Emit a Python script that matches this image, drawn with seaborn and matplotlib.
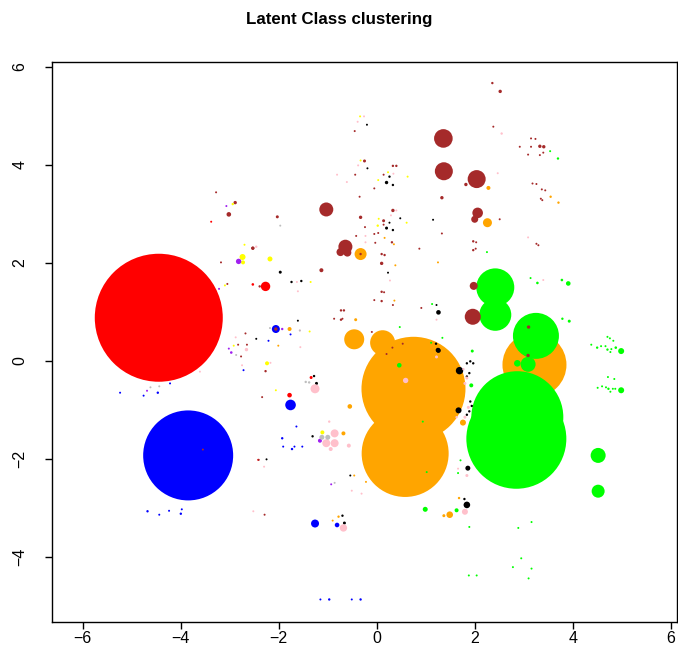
import numpy as np
import pandas as pd
import matplotlib
matplotlib.use("Agg")
import matplotlib.pyplot as plt
import seaborn as sns

# points per latent class: x, y, bubble radius (px)
red_x = [-4.45, -2.27, -1.78, -1.34, -3.38, -2.53, -2.42]
red_y = [0.88, 1.52, -0.70, -0.34, 2.84, 1.56, -2.02]
red_r = [64, 4.7, 2.3, 1.5, 1.0, 1.3, 1.0]

blue_x = [-3.85, -2.06, -1.76, -1.26, -0.81, -2.72, -4.22, -4.47, -4.76, -5.24, -1.76, -2.21,
          -1.64, -1.93, -1.91, -1.73, -1.68, -1.52, -4.68, -4.44, -4.24, -4.00, -3.98,
          -1.15, -0.97, -0.51, -0.33]
blue_y = [-1.93, 0.65, -0.90, -3.32, -3.35, -0.19, -0.46, -0.65, -0.71, -0.65, 0.54, 0.41,
          -1.34, -1.58, -1.75, -1.80, -1.75, -1.75, -3.07, -3.14, -3.06, -3.12, -3.03,
          -4.87, -4.87, -4.87, -4.87]
blue_r = [45, 4, 5.3, 4, 2.3, 1, 1, 1.2, 1, 1, 1, 1,
          1, 1.2, 1, 1.2, 1, 1, 1.2, 1, 1, 1.2, 1,
          1, 1.2, 1, 1.2]

orange_x = [0.75, 0.58, 3.22, 0.12, -0.46, -0.33, 2.26, 2.28, 1.49, 1.76, -0.55, -0.68, -1.78,
            0.38, 1.25, 0.36, -0.43, -2.01, 0.16, 0.35, 3.55, 3.71, -0.46, -0.22, -0.78,
            -0.90, 1.68, 1.37]
orange_y = [-0.57, -1.89, -0.08, 0.37, 0.44, 2.18, 2.82, 3.53, -3.14, -1.26, -0.93, -1.48, 0.65,
            1.95, 2.01, 1.23, 0.84, 0.31, 2.51, 2.38, 3.35, 3.23, -2.34, -2.47, -3.18,
            -3.26, -2.80, -3.16]
orange_r = [52, 43.5, 32, 12.5, 10, 6, 4.5, 2, 3.3, 3, 2.3, 2, 2,
            1, 1, 1, 1.5, 1, 1, 1, 1.2, 1.2, 1, 1, 1.2,
            1, 1.2, 1.5]

green_x = [2.85, 2.87, 3.25, 2.42, 2.42, 3.09, 2.87, 4.52, 4.52, 4.99, 4.99, 3.91, 3.93,
           0.46, 0.99, 1.63, 1.93, 1.95, 1.13, 0.47, 1.11, 1.34, 3.54, 3.70, 3.14, 3.28,
           3.78, 3.79, 2.25,
           4.38, 4.50, 4.58, 4.67, 4.71, 4.79, 4.77, 4.88, 4.71, 4.76, 4.83,
           4.51, 4.60, 4.68, 4.73, 4.82, 4.87, 4.77, 4.72, 4.85,
           1.02, 1.71, 1.66, 0.94,
           1.89, 2.89, 3.16, 2.95, 2.78, 3.16, 1.88, 2.04, 3.10]
green_y = [-1.59, -1.15, 0.51, 1.50, 0.94, -0.07, -0.05, -1.93, -2.66, 0.20, -0.60, 1.58, 0.81,
           -0.09, -3.03, -3.05, -0.50, 0.20, 1.16, 0.69, 0.37, 0.47, 4.28, 4.13, 1.69, 1.59,
           1.65, 0.86, 2.22,
           0.33, 0.27, 0.30, 0.30, 0.23, 0.24, 0.18, 0.27, 0.49, 0.46, 0.41,
           -0.55, -0.52, -0.54, -0.57, -0.57, -0.57, -0.63, -0.33, -0.37,
           -2.27, -2.03, -2.29, -1.24,
           -3.39, -3.41, -3.29, -4.03, -4.21, -4.24, -4.38, -4.38, -4.44]
green_r = [50, 46, 23, 19, 16, 7.5, 3.3, 7.5, 6.5, 3, 3, 2.3, 1.5,
           2.3, 2.5, 2, 2, 1.5, 1, 1, 1, 1, 1, 1.2, 1, 1.3,
           1.3, 1.2, 1,
           1, 1.2, 1, 1, 1.2, 1, 1, 1.3, 1, 1, 1,
           1, 1, 1, 1.2, 1, 1, 1, 1, 1,
           1, 1, 1, 1,
           1, 1, 1, 1, 1, 1, 1, 1, 1]

brown_x = [1.36, 1.37, 2.04, -1.03, -0.64, -0.74, -0.60, 1.96, 1.98, 2.06, 2.00, 2.52, 2.36,
           -2.06, -3.55, -0.33, 3.10, 3.09,
           -3.28, -2.89, -3.02, -2.53, -3.18, -3.05, -2.39, -2.68, -2.65, -2.83, -2.77,
           -0.45, -0.25, 0.33, 0.40, -0.44, 0.14, -0.05, -0.35, 1.33, 1.82, -2.03, -0.33,
           0.33, 0.14, 0.14, -0.24, -0.05, 0.03, 0.31, 1.33, -0.42, -0.03, 0.87,
           2.38, 2.92, 3.15, 3.24, 3.15, 3.33, 3.41, 3.40, 3.09, 3.33, 3.18, 3.26, 3.37,
           3.44, 3.35, 3.38, 2.51, 3.26, 3.30, 1.97, 2.03, 1.97, 2.02,
           -1.13, 0.10, 0.16, 0.10, 0.10, 0.15, 0.10, -0.05, 0.33, 0.91, -0.73, -0.67,
           -0.87, -0.73, -0.70, -0.10, 0.32, 0.20, 0.53, -2.27, -2.34, -2.41, -2.29, -2.53]
brown_y = [4.54, 3.87, 3.71, 3.09, 2.33, 2.22, 2.21, 0.90, 1.53, 3.02, 2.89, 5.50, 5.67,
           0.65, -1.81, 2.18, 0.69, 0.11,
           3.44, 3.23, 2.99, 2.30, 2.01, 1.57, 1.52, 0.56, 0.33, 0.33, 0.09,
           4.69, 4.08, 3.98, 3.98, 3.80, 3.80, 3.52, 3.35, 3.33, 3.60, 2.94, 2.93,
           3.07, 2.86, 2.78, 2.73, 2.59, 2.61, 2.42, 2.60, 2.55, 2.41, 2.29,
           4.78, 4.37, 4.54, 4.53, 4.37, 4.38, 4.37, 4.25, 4.21, 4.20, 3.62, 3.61, 3.50,
           3.48, 3.31, 3.28, 2.89, 2.39, 2.36, 2.44, 2.42, 2.26, 2.29,
           1.85, 2.18, 2.16, 1.99, 1.41, 1.40, 1.22, 1.24, 1.14, 1.08, 1.03, 1.03,
           0.86, 0.84, 0.86, 0.59, 0.27, 0.14, 0.35, -0.21, -0.74, -2.02, -3.14, 2.30]
brown_r = [9.3, 9, 9, 7, 7, 4, 4, 8, 4, 5.3, 3.5, 1.7, 1.2,
           1.7, 1, 1.2, 1.7, 1.7,
           1, 1.7, 2.3, 1.7, 1, 1, 1.2, 1, 1, 1, 1,
           1, 1.5, 1.2, 1.2, 1, 1, 1, 1, 1.7, 1.7, 1.5, 1.7,
           1.7, 1.5, 1, 1, 1, 1, 1.2, 1, 1, 1, 1,
           1, 1, 1, 1, 1, 1.7, 1.7, 1, 1, 1, 1, 1, 1,
           1, 1, 1, 1, 1, 1, 1.2, 1, 1.2, 1,
           2, 1.2, 1.2, 1.7, 1.2, 1, 1.2, 1, 1, 1, 1.2, 1.2,
           1, 1.2, 1, 1, 1, 1, 1, 1.2, 1, 1, 1, 1.5]

black_x = [1.26, 1.69, 1.67, 1.86, 1.84, 1.26, 1.25, -0.20, -0.19, 0.26, 0.20, 0.33, 1.15,
           0.48, 0.26, 0.20, 0.33, -2.46, -1.97, 0.23, -1.74, -1.54, 1.22, 1.21, -1.61,
           -1.28, -1.23, -2.25, -1.31, -0.54, -0.70, -0.66, 1.79, 1.84, 1.91, 1.97, 1.89,
           1.84, 1.91, 1.94, 1.89, 1.84]
black_y = [0.21, -0.20, -1.01, -2.19, -2.94, 0.99, 0.22, 4.82, 3.93, 3.76, 3.64, 3.59, 2.88,
           2.91, 2.82, 2.71, 2.67, 0.45, 1.81, 1.80, 1.61, 1.63, 1.14, 0.35, 0.82,
           -0.31, -0.46, -2.01, -1.54, -2.34, -3.16, -3.31, -2.82, -0.05, -0.01, -0.05, -0.25,
           -0.32, -0.83, -0.92, -1.03, -1.10]
black_r = [2.3, 3.7, 3, 2.5, 3.3, 2.3, 2.3, 1, 1, 1.2, 1.7, 1.2, 1,
           1, 1, 1.5, 1.2, 1, 1.5, 1, 1.2, 1.2, 1, 1.2, 1,
           1.2, 1.5, 1, 1.2, 1, 1.2, 1.5, 1.2, 1.2, 1.2, 1.2, 1.2,
           1.2, 1.2, 1.2, 1.2, 1.2]

pink_x = [-1.26, -0.86, -1.03, -0.86, -0.94, -0.57, -0.68, 1.80, 0.59, 1.84, 1.22, 1.22,
          -0.26, -0.39, -0.38, 0.34, -0.81, -0.61, 0.29, -0.23, -0.23, 2.55, 2.47, 3.09,
          3.40, -2.46, -2.66, -2.88, -2.75, -3.61, 0.27, -1.63, -1.61, -1.57, -1.56,
          -2.17, -0.97, -2.30, -0.51, -0.31, 1.66, 1.77, 1.84, 1.80, 1.87, 1.80, 1.63,
          -2.52, 0.40]
pink_y = [-0.57, -1.48, -1.68, -1.68, -1.80, -1.73, -3.41, -3.08, -0.40, -2.34, 0.08, 0.84,
          4.99, 4.88, 3.99, 3.82, 3.80, 3.65, 2.97, 2.55, 2.42, 4.64, 3.83, 2.52,
          1.65, 2.33, 0.23, 0.48, -0.09, -0.22, 1.64, 1.61, 1.42, 0.62, 0.28,
          -0.04, -1.24, -2.16, -2.65, -2.71, -2.20, -0.17, -0.35, -0.46, -0.95, -1.15, -1.15,
          -3.07, 3.07]
pink_r = [4.5, 4, 4, 4, 2, 2, 3.7, 3, 2.7, 1.5, 1.5, 1,
          1, 1, 1, 1, 1, 1, 1, 1, 1, 1.2, 1, 1,
          1, 1.2, 1.7, 1, 1, 1, 1, 1, 1, 1, 1,
          1, 1.2, 1, 1, 1, 1, 1.2, 1.5, 1.5, 1.5, 1.5, 1.2,
          1, 1]

yellow_x = [-2.74, -2.18, -2.73, -1.11, -2.94, -2.70, -3.10, -0.34, -0.33, 0.23, 0.03, 0.63,
            0.04, 0.61, 0.02, -1.35, -2.92, -1.37, -2.24, -2.06]
yellow_y = [2.12, 2.08, 2.01, -1.46, 3.20, 2.37, 1.54, 4.99, 4.09, 3.85, 3.69, 3.76,
            2.90, 2.82, 2.76, 1.61, 0.31, 0.60, -0.05, -0.60]
yellow_r = [3, 2.5, 2, 2, 1.2, 1, 1, 1, 1, 1, 1, 1,
            1, 1, 1.2, 1, 1, 1, 2, 1]

purple_x = [-2.82, -1.16, -3.07, -3.22, -2.97, -3.02, -4.69, -1.93, -0.93]
purple_y = [2.03, -1.63, 3.16, 1.47, 0.17, 0.25, -0.61, 0.65, -2.52]
purple_r = [2.7, 2, 1, 1, 1.3, 1, 1, 1.2, 1]

grey_x = [-1.12, -1.00, -1.97, -2.87, -4.62, -4.44, -2.18, -1.45, -1.38, -0.86, -1.57]
grey_y = [-1.56, -1.56, 2.76, 0.12, -0.54, -0.52, 0.67, -0.43, -0.44, -2.49, 0.62]
grey_r = [2.5, 2.5, 1, 1, 1, 1, 1, 1.2, 1.2, 1, 1]

palette = {"red": "#FF0000", "blue": "#0000FF", "orange": "#FFA500", "green": "#00FF00",
           "brown": "#A52A2A", "black": "#000000", "pink": "#FFC0CB", "yellow": "#FFFF00",
           "purple": "#A020F0", "grey": "#BEBEBE"}

groups = [("red", red_x, red_y, red_r), ("blue", blue_x, blue_y, blue_r),
          ("orange", orange_x, orange_y, orange_r), ("green", green_x, green_y, green_r),
          ("brown", brown_x, brown_y, brown_r), ("black", black_x, black_y, black_r),
          ("pink", pink_x, pink_y, pink_r), ("yellow", yellow_x, yellow_y, yellow_r),
          ("purple", purple_x, purple_y, purple_r), ("grey", grey_x, grey_y, grey_r)]

frames = []
for name, gx, gy, gr in groups:
    frames.append(pd.DataFrame({"x": gx, "y": gy, "r": gr, "cls": name}))
df = pd.concat(frames, ignore_index=True)
# radius in px -> marker area in pt^2 (dpi 100)
df["s"] = (2 * df["r"] * 72 / 100) ** 2

sns.set_style("ticks")
plt.rcParams["font.family"] = ["Liberation Sans", "DejaVu Sans"]

fig = plt.figure(figsize=(6.78, 6.70), dpi=100)
ax = fig.add_axes([52 / 678, 48 / 670, 625 / 678, 560 / 670])

smin, smax = df["s"].min(), df["s"].max()
sns.scatterplot(data=df, x="x", y="y", hue="cls", palette=palette, size="s",
                sizes=(smin, smax), size_norm=(smin, smax), linewidth=0,
                alpha=1, legend=False, ax=ax)

ax.set_xlim(-6.63, 6.13)
ax.set_ylim(-5.33, 6.10)
ax.set_xticks([-6, -4, -2, 0, 2, 4, 6])
ax.set_yticks([-4, -2, 0, 2, 4, 6])
ax.set_xlabel("")
ax.set_ylabel("")
ax.tick_params(direction="out", length=5, width=1, labelsize=11.5, colors="black")
ax.tick_params(axis="x", pad=1.5)
ax.tick_params(axis="y", pad=12.5)
for lab in ax.get_yticklabels():
    lab.set_rotation(90)
    lab.set_va("center")
for sp in ax.spines.values():
    sp.set_visible(True)
    sp.set_color("black")
    sp.set_linewidth(1)

fig.suptitle("Latent Class clustering", fontsize=12.2, fontweight="bold",
             color="black", y=0.982)

fig.savefig("out.png", dpi=100)
